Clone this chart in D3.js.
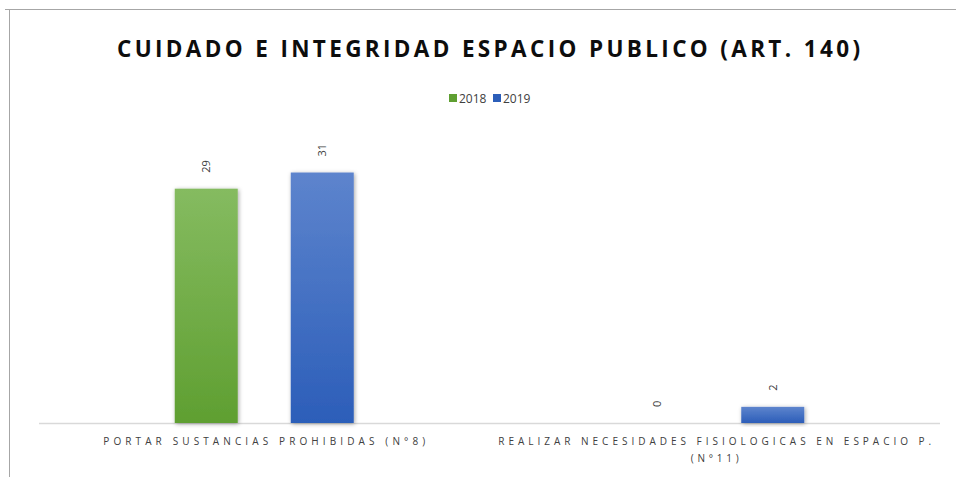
<!DOCTYPE html>
<html>
<head>
<meta charset="utf-8">
<script src="https://cdn.jsdelivr.net/npm/d3@7"></script>
<style>
  html, body { margin: 0; padding: 0; background: #fff; }
  svg { display: block; }
</style>
</head>
<body>
<div id="chart"></div>
<script>
// Data
var categories = ["PORTAR SUSTANCIAS PROHIBIDAS (N°8)", "REALIZAR NECESIDADES FISIOLOGICAS EN ESPACIO P. (N°11)"];
var categoryLines = [["PORTAR SUSTANCIAS PROHIBIDAS (N°8)"], ["REALIZAR NECESIDADES FISIOLOGICAS EN ESPACIO P.", "(N°11)"]];
var series = ["2018", "2019"];
var values2018 = [29, 0];
var values2019 = [31, 2];
var colors = { "2018": ["#85bb60", "#5f9f31"], "2019": ["#5d84cd", "#2c5eb9"] };

var W = 956, H = 477;
var plot = { left: 39, right: 940, top: 140, bottom: 423 };

var svg = d3.select("#chart").append("svg")
  .attr("width", W)
  .attr("height", H);

var defs = svg.append("defs");
series.forEach(function(s) {
  var g = defs.append("linearGradient")
    .attr("id", "grad" + s)
    .attr("x1", 0).attr("y1", 0).attr("x2", 0).attr("y2", 1);
  g.append("stop").attr("offset", "0%").attr("stop-color", colors[s][0]);
  g.append("stop").attr("offset", "100%").attr("stop-color", colors[s][1]);
});
defs.append("filter")
  .attr("id", "shadow")
  .attr("x", "-20%").attr("y", "-20%").attr("width", "140%").attr("height", "140%")
  .append("feDropShadow")
  .attr("dx", 1).attr("dy", 1)
  .attr("stdDeviation", 2)
  .attr("flood-color", "#000")
  .attr("flood-opacity", 0.35);

// chart frame (cropped)
svg.append("line").attr("x1", 5).attr("x2", W).attr("y1", 9.5).attr("y2", 9.5)
  .attr("stroke", "#a6a6a6");
svg.append("line").attr("x1", 9.5).attr("x2", 9.5).attr("y1", 9).attr("y2", H)
  .attr("stroke", "#a6a6a6");

// Scales
var x0 = d3.scaleBand()
  .domain(categories)
  .range([plot.left, plot.right]);

var x1 = d3.scaleBand()
  .domain(series)
  .range([0, 179])
  .paddingInner(0.457);

var y = d3.scaleLinear()
  .domain([0, 35])
  .range([plot.bottom, plot.bottom - 35 * 8.08]);

// Title
svg.append("text")
  .attr("x", (117 + 860) / 2)
  .attr("y", 57)
  .attr("text-anchor", "middle")
  .attr("font-family", "'Open Sans', sans-serif")
  .attr("font-weight", "bold")
  .attr("font-size", 22.5)
  .attr("fill", "#0d0d0d")
  .attr("textLength", 743)
  .attr("lengthAdjust", "spacing")
  .text("CUIDADO E INTEGRIDAD ESPACIO PUBLICO (ART. 140)");

// Legend
var legend = svg.append("g").attr("font-family", "'Open Sans', sans-serif").attr("font-size", 12).attr("fill", "#404040");
var legendX = [449, 493];
series.forEach(function(s, i) {
  legend.append("rect")
    .attr("x", legendX[i]).attr("y", 94)
    .attr("width", 8).attr("height", 8)
    .attr("fill", colors[s][1]);
  legend.append("text")
    .attr("x", legendX[i] + 10).attr("y", 103)
    .text(s);
});

// Axis baseline
svg.append("line")
  .attr("x1", plot.left).attr("x2", plot.right)
  .attr("y1", y(0) + 0.5).attr("y2", y(0) + 0.5)
  .attr("stroke", "#d9d9d9").attr("stroke-width", 1.5);

// Bars
var rows = categories.map(function(c, i) {
  return { cat: c, vals: [{ s: "2018", v: values2018[i] }, { s: "2019", v: values2019[i] }] };
});

var groups = svg.selectAll("g.cat")
  .data(rows)
  .enter().append("g")
  .attr("class", "cat")
  .attr("transform", function(d) { return "translate(" + (x0(d.cat) + x0.bandwidth() / 2 - 89.5) + ",0)"; });

groups.selectAll("rect")
  .data(function(d) { return d.vals; })
  .enter().append("rect")
  .attr("x", function(d) { return x1(d.s); })
  .attr("y", function(d) { return y(d.v); })
  .attr("width", x1.bandwidth())
  .attr("height", function(d) { return y(0) - y(d.v); })
  .attr("fill", function(d) { return "url(#grad" + d.s + ")"; })
  .attr("filter", "url(#shadow)");

// Value labels (rotated)
groups.selectAll("text.val")
  .data(function(d) { return d.vals; })
  .enter().append("text")
  .attr("class", "val")
  .attr("transform", function(d) {
    return "translate(" + (x1(d.s) + x1.bandwidth() / 2 + 4) + "," + (y(d.v) - 16) + ") rotate(-90)";
  })
  .attr("font-family", "'Open Sans', sans-serif")
  .attr("font-size", 11)
  .attr("fill", "#404040")
  .text(function(d) { return d.v; });

// Category labels
var catLabelLen = [[322], [433, 48]];
categories.forEach(function(c, i) {
  var cx = x0(c) + x0.bandwidth() / 2;
  categoryLines[i].forEach(function(line, j) {
    svg.append("text")
      .attr("x", cx)
      .attr("y", 445 + j * 17)
      .attr("text-anchor", "middle")
      .attr("font-family", "'Open Sans', sans-serif")
      .attr("font-size", 10)
      .attr("fill", "#404040")
      .attr("textLength", catLabelLen[i][j])
      .attr("lengthAdjust", "spacing")
      .text(line);
  });
});
</script>
</body>
</html>
